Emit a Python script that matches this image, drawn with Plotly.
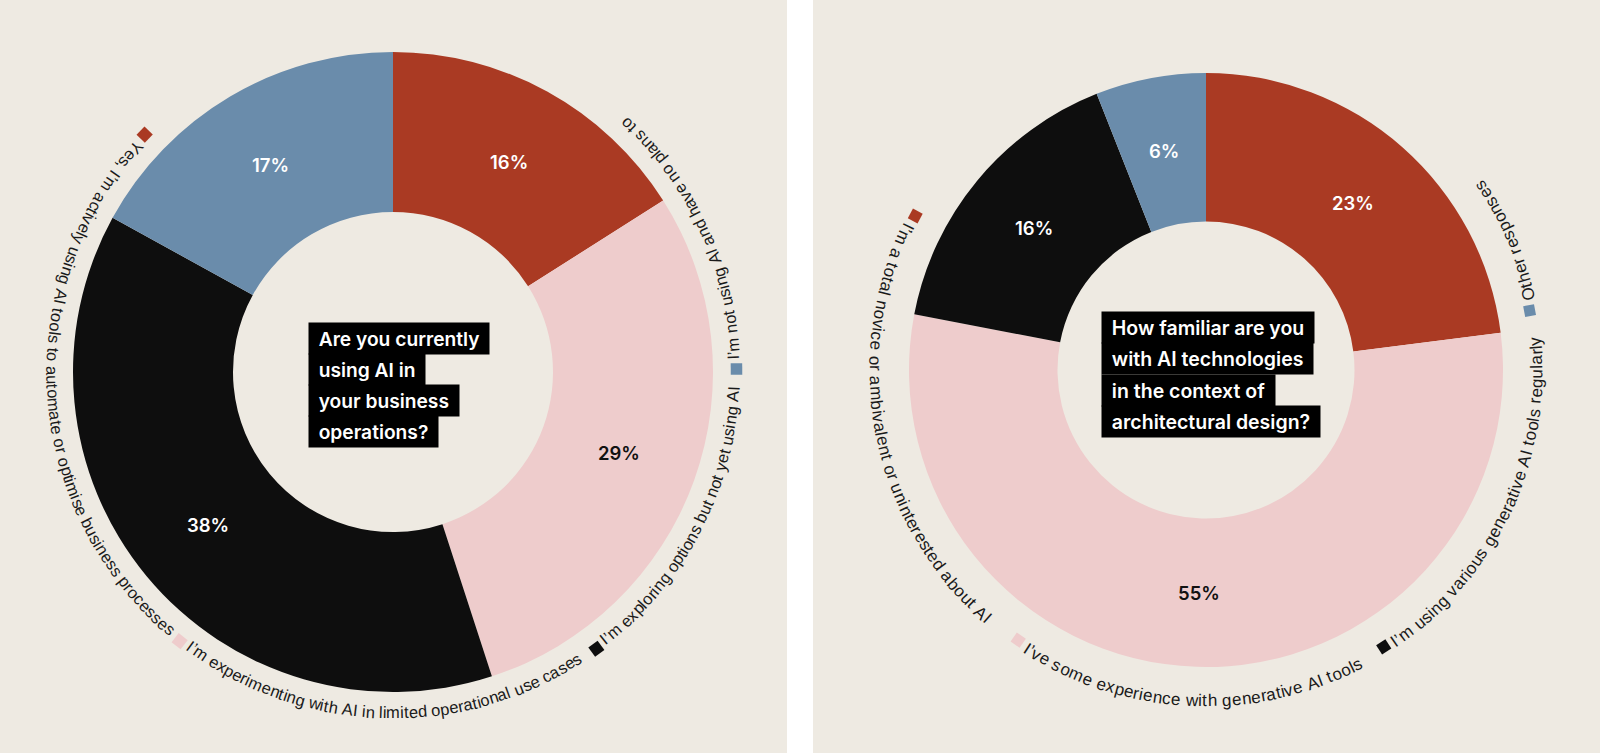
import math

import plotly.graph_objects as go

W, H = 1600, 753

# ---- data -----------------------------------------------------------------
q1_question = ["Are you currently", "using AI in", "your business", "operations?"]
q1_labels = [
    "Yes, I’m actively using AI tools to automate or optimise business processes",
    "I’m experimenting with AI in limited operational use cases",
    "I’m exploring options but not yet using AI",
    "I’m not using AI and have no plans to",
]
q1_values = [16, 29, 38, 17]

q2_question = ["How familiar are you", "with AI technologies", "in the context of", "architectural design?"]
q2_labels = [
    "I’m a total novice or ambivalent or uninterested about AI",
    "I’ve some experience with generative AI tools",
    "I’m using various generative AI tools regularly",
    "Other responses",
]
q2_values = [23, 55, 16, 6]

# ---- style ----------------------------------------------------------------
BG = "#EEEAE2"
slice_colors = ["#AA3A23", "#EECCCC", "#0E0E0E", "#6A8CAB"]
pct_colors = ["#FFFFFF", "#111111", "#FFFFFF", "#FFFFFF"]
LABEL_FONT = "Liberation Sans"
BOLD_FONT = "Inter"

# Liberation Sans is metric compatible with Arial, advance widths in 1/1000 em
ADV = dict(zip("abcdefghijklmnopqrstuvwxyz",
               [556, 556, 500, 556, 556, 278, 556, 556, 222, 222, 500, 222, 833,
                556, 556, 556, 556, 333, 500, 278, 556, 500, 722, 500, 500, 500]))
ADV.update(zip("ABCDEFGHIJKLMNOPQRSTUVWXYZ",
               [667, 667, 722, 722, 667, 611, 778, 722, 278, 500, 667, 556, 833,
                722, 778, 667, 778, 722, 667, 611, 722, 667, 944, 667, 667, 611]))
ADV.update({" ": 278, ",": 278, ".": 278, "’": 222, "?": 556})

# geometry of each donut, in screen pixels (angles clockwise from 12 o'clock)
charts = [
    dict(question=q1_question, labels=q1_labels, values=q1_values,
         cx=393, cy=372, r=320, ring_r=340.5, sq_r=343.5, sq=11.5, em=16.4, font=16.5,
         marks=[313.7, 218.4, 143.7, 89.5], box_left=308, box_top=323, line_h=31,
         q_size=19.2, pct_size=18.5),
    dict(question=q2_question, labels=q2_labels, values=q2_values,
         cx=1206, cy=370, r=297, ring_r=331, sq_r=329, sq=11, em=17.6, font=17,
         marks=[297.9, 214.8, 147.3, 79.6], box_left=1101, box_top=312, line_h=31.25,
         q_size=19.5, pct_size=18.5),
]
HOLE = 0.5


def to_paper(px, py):
    return px / W, 1 - py / H


def polar(c, theta, r):
    t = math.radians(theta)
    return c["cx"] + r * math.sin(t), c["cy"] - r * math.cos(t)


def norm(a):
    return (a + 180) % 360 - 180


def ring_text(c, text, start):
    # letters run anticlockwise round the donut, tops facing the centre
    out = []
    pos = 9.5
    for ch in text:
        w = ADV.get(ch, 556) / 1000 * c["em"]
        if ch != " ":
            theta = start - math.degrees((pos + w / 2) / c["ring_r"])
            x, y = to_paper(*polar(c, theta, c["ring_r"]))
            out.append(dict(text=ch, x=x, y=y, xref="paper", yref="paper", showarrow=False,
                            xanchor="center", yanchor="middle", textangle=norm(theta - 180),
                            font=dict(family=LABEL_FONT, size=c["font"], color="#1A1A1A")))
        pos += w
    return out


def square_path(c, theta):
    px0, py0 = polar(c, theta, c["sq_r"])
    a = math.radians(theta - 180)
    pts = []
    for dx, dy in [(-1, -1), (1, -1), (1, 1), (-1, 1)]:
        hx, hy = dx * c["sq"] / 2, dy * c["sq"] / 2
        pts.append(to_paper(px0 + hx * math.cos(a) - hy * math.sin(a),
                            py0 + hx * math.sin(a) + hy * math.cos(a)))
    return "M " + " L ".join(f"{x:.5f},{y:.5f}" for x, y in pts) + " Z"


fig = go.Figure()
annotations = []
shapes = [dict(type="rect", xref="paper", yref="paper", x0=787 / W, x1=813 / W, y0=0, y1=1,
               fillcolor="#FFFFFF", line=dict(width=0), layer="below")]

for c in charts:
    x0, y1 = to_paper(c["cx"] - c["r"], c["cy"] - c["r"])
    x1, y0 = to_paper(c["cx"] + c["r"], c["cy"] + c["r"])
    fig.add_trace(go.Pie(
        values=c["values"], labels=c["labels"], sort=False, direction="clockwise", rotation=0,
        hole=HOLE, textinfo="none", hoverinfo="label+percent", showlegend=False,
        marker=dict(colors=slice_colors, line=dict(width=0)),
        domain=dict(x=[x0, x1], y=[y0, y1]),
    ))

    # percentages in the middle of each ring segment
    total = sum(c["values"])
    cum = 0
    mid_r = c["r"] * (1 + HOLE) / 2
    for v, col in zip(c["values"], pct_colors):
        theta = (cum + v / 2) / total * 360
        cum += v
        x, y = to_paper(*polar(c, theta, mid_r))
        annotations.append(dict(text=f"{v}%", x=x, y=y, xref="paper", yref="paper", showarrow=False,
                                xanchor="center", yanchor="middle",
                                font=dict(family=BOLD_FONT, size=c["pct_size"], color=col, weight=600)))

    # legend squares and curved labels
    for lab, col, start in zip(c["labels"], slice_colors, c["marks"]):
        shapes.append(dict(type="path", xref="paper", yref="paper", path=square_path(c, start),
                           fillcolor=col, line=dict(width=0)))
        annotations.extend(ring_text(c, lab, start))

    # question in the hole, highlighted line by line
    for i, line in enumerate(c["question"]):
        x, y = to_paper(c["box_left"], c["box_top"] + (i + 0.5) * c["line_h"])
        annotations.append(dict(text="\u00a0\u00a0" + line + "\u00a0\u00a0", x=x, y=y,
                                xref="paper", yref="paper", showarrow=False,
                                xanchor="left", yanchor="middle", align="left",
                                height=c["line_h"], borderpad=0, bgcolor="#000000",
                                font=dict(family=BOLD_FONT, size=c["q_size"], color="#FFFFFF", weight=600)))

fig.update_layout(
    width=W, height=H,
    margin=dict(l=0, r=0, t=0, b=0),
    paper_bgcolor=BG, plot_bgcolor=BG,
    annotations=annotations,
    shapes=shapes,
)

fig.write_html("out.html", config={"displayModeBar": False},
               post_script="document.body.style.margin='0';document.body.style.overflow='hidden';")
